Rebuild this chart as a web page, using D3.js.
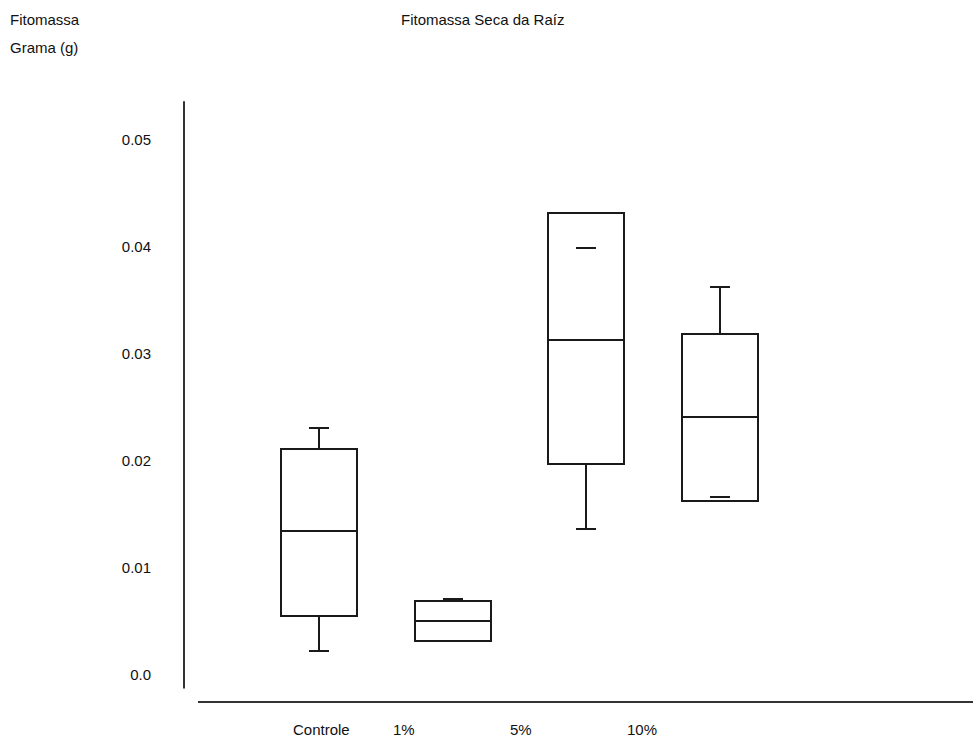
<!DOCTYPE html>
<html>
<head>
<meta charset="utf-8">
<script src="https://cdn.jsdelivr.net/npm/d3@7"></script>
<style>
  html, body { margin: 0; padding: 0; background: #fff; }
  svg { display: block; }
  text { font-family: "Liberation Sans", Arial, sans-serif; font-size: 15px; fill: #111; }
</style>
</head>
<body>
<svg id="chart" width="973" height="740"></svg>
<script>
// Treatments and the five-number summaries of root dry phytomass (g)
const categories  = ["Controle", "1%", "5%", "10%"];
const whiskerLow  = [0.0022, 0.0032, 0.0136, 0.0166];
const quartile1   = [0.0055, 0.0032, 0.0197, 0.0162];
const medians     = [0.0134, 0.0050, 0.0313, 0.0241];
const quartile3   = [0.0211, 0.0069, 0.0431, 0.0318];
const whiskerHigh = [0.0231, 0.0071, 0.0399, 0.0362];
const yTicks      = [0.0, 0.01, 0.02, 0.03, 0.04, 0.05];
const yTickLabels = ["0.0", "0.01", "0.02", "0.03", "0.04", "0.05"];

const chartTitle = "Fitomassa Seca da Raíz";
const yTitle1 = "Fitomassa";
const yTitle2 = "Grama (g)";

const rows = categories.map((c, i) => ({
  cat: c, lo: whiskerLow[i], q1: quartile1[i], med: medians[i], q3: quartile3[i], hi: whiskerHigh[i]
}));

const svg = d3.select("#chart");

// Scales
const y = d3.scaleLinear().domain([0, 0.05]).range([675, 139.3]);
const x = d3.scalePoint().domain(categories).range([319, 719.5]);
// Category captions sit on their own (left-aligned) slots under the boxes
const xLabel = d3.scaleOrdinal().domain(categories).range([293, 393, 510, 627]);
const boxW = 76, capW = 20;

const ink = "#1a1a1a";

// Titles
svg.append("text").attr("x", 10).attr("y", 25).text(yTitle1);
svg.append("text").attr("x", 10).attr("y", 53).text(yTitle2);
svg.append("text").attr("x", 401).attr("y", 25).text(chartTitle);

// Axis lines
svg.append("line")
  .attr("x1", 184).attr("x2", 184)
  .attr("y1", y(0.05355)).attr("y2", y(-0.00125))
  .attr("stroke", "#333").attr("stroke-width", 2);
svg.append("line")
  .attr("x1", 198).attr("x2", 973)
  .attr("y1", 702).attr("y2", 702)
  .attr("stroke", "#333").attr("stroke-width", 2);

// Y tick labels (no tick marks)
const yAxis = d3.axisLeft(y)
  .tickValues(yTicks)
  .tickFormat((d, i) => yTickLabels[i])
  .tickSize(0)
  .tickPadding(0);
const gy = svg.append("g").attr("transform", "translate(151,0)").call(yAxis);
gy.select(".domain").remove();
gy.selectAll("text")
  .attr("font-family", "Liberation Sans, Arial, sans-serif")
  .attr("font-size", 16)
  .attr("fill", "#111");

// X category labels
svg.append("g").selectAll("text")
  .data(categories)
  .join("text")
  .attr("x", d => xLabel(d))
  .attr("y", 735)
  .text(d => d);

// Boxes
const g = svg.append("g")
  .attr("fill", "none")
  .attr("stroke", ink)
  .attr("stroke-width", 2)
  .attr("shape-rendering", "crispEdges");

const box = g.selectAll("g.box").data(rows).join("g").attr("class", "box");

box.append("rect")
  .attr("x", d => x(d.cat) - boxW / 2)
  .attr("width", boxW)
  .attr("y", d => y(d.q3))
  .attr("height", d => y(d.q1) - y(d.q3));

box.append("line")
  .attr("x1", d => x(d.cat) - boxW / 2).attr("x2", d => x(d.cat) + boxW / 2)
  .attr("y1", d => y(d.med)).attr("y2", d => y(d.med));

// Whisker stems only where the extreme lies beyond the box
box.filter(d => d.hi > d.q3).append("line")
  .attr("x1", d => x(d.cat)).attr("x2", d => x(d.cat))
  .attr("y1", d => y(d.q3)).attr("y2", d => y(d.hi));
box.filter(d => d.lo < d.q1).append("line")
  .attr("x1", d => x(d.cat)).attr("x2", d => x(d.cat))
  .attr("y1", d => y(d.q1)).attr("y2", d => y(d.lo));

// Whisker caps
box.append("line")
  .attr("x1", d => x(d.cat) - capW / 2).attr("x2", d => x(d.cat) + capW / 2)
  .attr("y1", d => y(d.hi)).attr("y2", d => y(d.hi));
box.append("line")
  .attr("x1", d => x(d.cat) - capW / 2).attr("x2", d => x(d.cat) + capW / 2)
  .attr("y1", d => y(d.lo)).attr("y2", d => y(d.lo));
</script>
</body>
</html>
